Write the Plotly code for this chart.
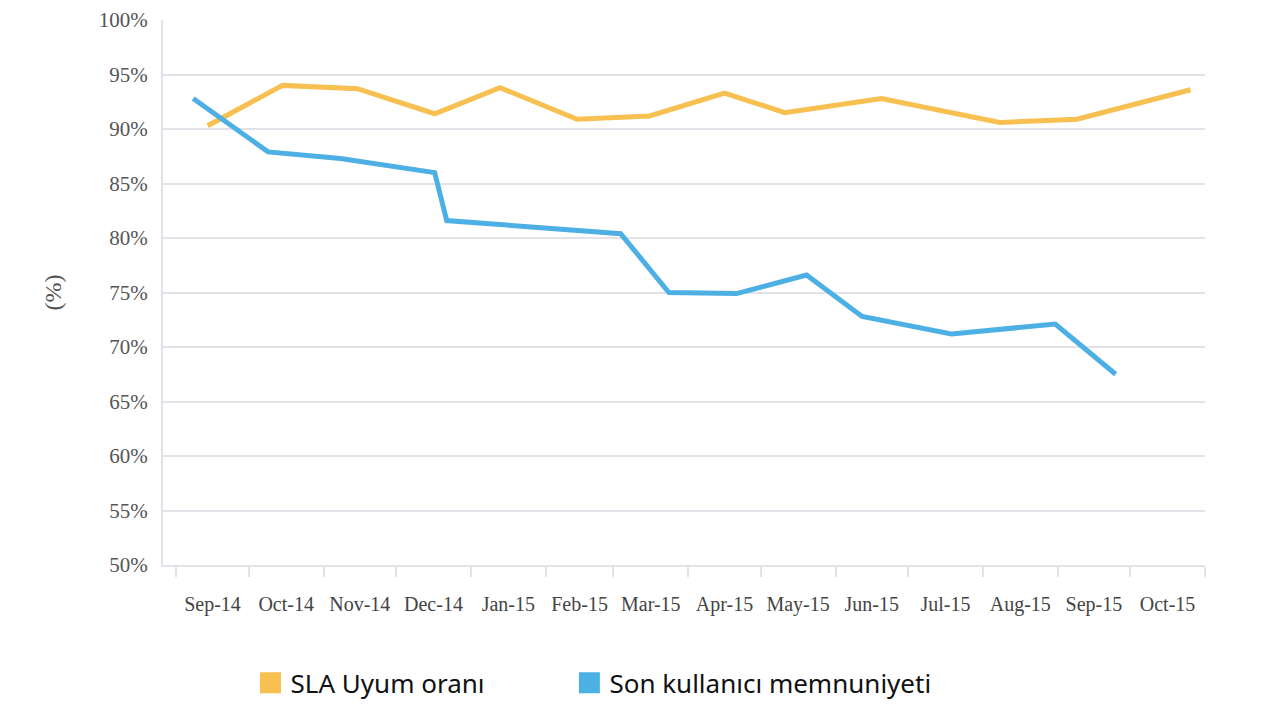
import plotly.graph_objects as go

# SLA compliance (yellow) - dates and percent values
sla_dates = ["2014-09-14", "2014-10-15", "2014-11-15", "2014-12-17", "2015-01-13",
             "2015-02-14", "2015-03-16", "2015-04-16", "2015-05-11", "2015-06-20",
             "2015-08-08", "2015-09-09", "2015-10-26"]
sla_values = [90.3, 94.0, 93.7, 91.4, 93.8, 90.9, 91.2, 93.3, 91.5, 92.8, 90.6, 90.9, 93.6]

# end-user satisfaction (blue)
sat_dates = ["2014-09-08", "2014-10-09", "2014-11-08", "2014-12-17", "2014-12-22",
             "2015-03-04", "2015-03-24", "2015-04-21", "2015-05-20", "2015-06-12",
             "2015-07-19", "2015-08-31", "2015-09-25"]
sat_values = [92.8, 87.9, 87.3, 86.0, 81.6, 80.4, 75.0, 74.9, 76.6, 72.8, 71.2, 72.1, 67.5]

series_names = ["SLA Uyum oranı", "Son kullanıcı memnuniyeti"]
YELLOW = "#F8BF51"
BLUE = "#4DB0E5"
GRID = "#E2E2E8"

fig = go.Figure()
fig.add_trace(go.Scatter(
    x=sla_dates, y=sla_values, mode="lines",
    line=dict(color=YELLOW, width=5), showlegend=False,
))
fig.add_trace(go.Scatter(
    x=sat_dates, y=sat_values, mode="lines",
    line=dict(color=BLUE, width=5), showlegend=False,
))
# legend entries drawn as squares, one legend each so they can sit apart
for name, color, leg in zip(series_names, [YELLOW, BLUE], ["legend", "legend2"]):
    fig.add_trace(go.Scatter(
        x=[None], y=[None], mode="markers", name=name, legend=leg,
        marker=dict(symbol="square", size=16, color=color,
                    line=dict(color=color, width=5)),
    ))

legend_font = dict(family="Noto Sans", size=26, color="#111")

# body of the page has an 8px margin, so the figure is 8px smaller
fig.update_layout(
    width=1258, height=703,
    margin=dict(l=155, r=61, t=12, b=146),
    plot_bgcolor="white", paper_bgcolor="white",
    xaxis=dict(
        type="date", automargin=False,
        range=["2014-08-26 12:00", "2015-11-01"],
        dtick="M1", tick0="2014-09-01",
        tickformat="%b-%y", ticklabelmode="period",
        ticks="outside", ticklen=10, tickwidth=2, tickcolor=GRID,
        showgrid=False, showline=True, linecolor=GRID, linewidth=2,
        tickfont=dict(family="Liberation Serif", size=20, color="#444"),
        ticklabelstandoff=10,
    ),
    yaxis=dict(
        range=[50, 100], dtick=5, ticksuffix="%", automargin=False,
        showgrid=True, gridcolor=GRID, gridwidth=2,
        showline=True, linecolor=GRID, linewidth=2,
        zeroline=False, ticks="", ticklabelstandoff=9,
        tickfont=dict(family="Liberation Serif", size=21, color="#555"),
        title=dict(text="(%)", standoff=30,
                   font=dict(family="Liberation Serif", size=24, color="#555")),
    ),
    legend=dict(
        orientation="h", x=0.084, y=0.04, yref="container",
        xanchor="left", yanchor="middle", font=legend_font,
    ),
    legend2=dict(
        orientation="h", x=0.39, y=0.04, yref="container",
        xanchor="left", yanchor="middle", font=legend_font,
    ),
)

fig.write_html("out.html")
